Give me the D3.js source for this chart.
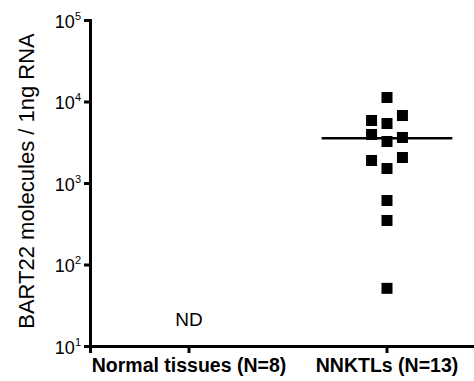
<!DOCTYPE html>
<html>
<head>
<meta charset="utf-8">
<script src="https://cdnjs.cloudflare.com/ajax/libs/d3/7.8.5/d3.min.js"></script>
<style>
    body { margin: 0; background: #fff; }
    svg { display: block; font-family: 'Liberation Sans', Arial, sans-serif; }
    .axis path, .axis line { stroke: #000; stroke-width: 3; }
    .axis text { fill: #000; }
</style>
</head>
<body>
<svg id="chart" width="474" height="381"></svg>
<script>
// values
const categories = ['Normal tissues (N=8)', 'NNKTLs (N=13)'];
const nnktlValues = [11200, 5850, 6730, 5370, 3940, 3230, 3620, 1890, 2055, 1505, 610, 347, 51];
const nnktlColumn = [0, -1, 1, 0, -1, 0, 1, -1, 1, 0, 0, 0, 0];
const nnktlMedian = 3550;
const normalLabel = 'ND';
const yTickValues = [1e1, 1e2, 1e3, 1e4, 1e5];
const yTitle = 'BART22 molecules / 1ng RNA';

let svg = d3.select('#chart'),
    plotLeft = 90, plotTop = 20, plotBottom = 346;

let x = d3.scaleBand().domain(categories).range([plotLeft, plotLeft + 2 * 198]),
    y = d3.scaleLog().domain([10, 1e5]).range([plotBottom, plotTop]);

let cx = c => x(c) + x.bandwidth() / 2;
let jitter = 0.078 * x.step(),
    halfMedian = 0.33 * x.step();

// x axis
let gx = svg.append('g')
    .attr('class', 'axis')
    .attr('transform', 'translate(0,' + plotBottom + ')')
    .call(d3.axisBottom(x).tickSizeOuter(0).tickSize(7).tickFormat(''));
gx.selectAll('.tick line').attr('stroke-width', 2.5);

gx.selectAll('.tick').append('text')
    .attr('y', 26)
    .attr('text-anchor', 'middle')
    .attr('font-size', 19.5)
    .attr('font-weight', 'bold')
    .text(d => d);

// y axis
let gy = svg.append('g')
    .attr('class', 'axis')
    .attr('transform', 'translate(' + plotLeft + ',0)')
    .call(d3.axisLeft(y).tickValues(yTickValues).tickSizeOuter(0).tickSize(6).tickFormat(''));

let lab = gy.selectAll('.tick').append('text')
    .attr('x', -9)
    .attr('y', 7)
    .attr('text-anchor', 'end')
    .attr('font-size', 18);
lab.append('tspan').text('10');
lab.append('tspan')
    .attr('font-size', 11)
    .attr('dy', -8)
    .text(d => Math.round(Math.log10(d)));

svg.append('text')
    .attr('transform', 'translate(34,181) rotate(-90)')
    .attr('text-anchor', 'middle')
    .attr('font-size', 22)
    .text(yTitle);

// normal tissues: not detected
svg.append('text')
    .attr('x', cx(categories[0]))
    .attr('y', 326)
    .attr('text-anchor', 'middle')
    .attr('font-size', 19)
    .text(normalLabel);

// NNKTL points
let size = 11;
svg.selectAll('.pt')
    .data(nnktlValues)
    .enter().append('rect')
    .attr('class', 'pt')
    .attr('x', (d, i) => cx(categories[1]) + nnktlColumn[i] * jitter - size / 2)
    .attr('y', d => y(d) - size / 2)
    .attr('width', size)
    .attr('height', size)
    .attr('fill', '#000');

// median
svg.append('line')
    .attr('x1', cx(categories[1]) - halfMedian)
    .attr('x2', cx(categories[1]) + halfMedian)
    .attr('y1', y(nnktlMedian))
    .attr('y2', y(nnktlMedian))
    .attr('stroke', '#000')
    .attr('stroke-width', 2.5);
</script>
</body>
</html>
